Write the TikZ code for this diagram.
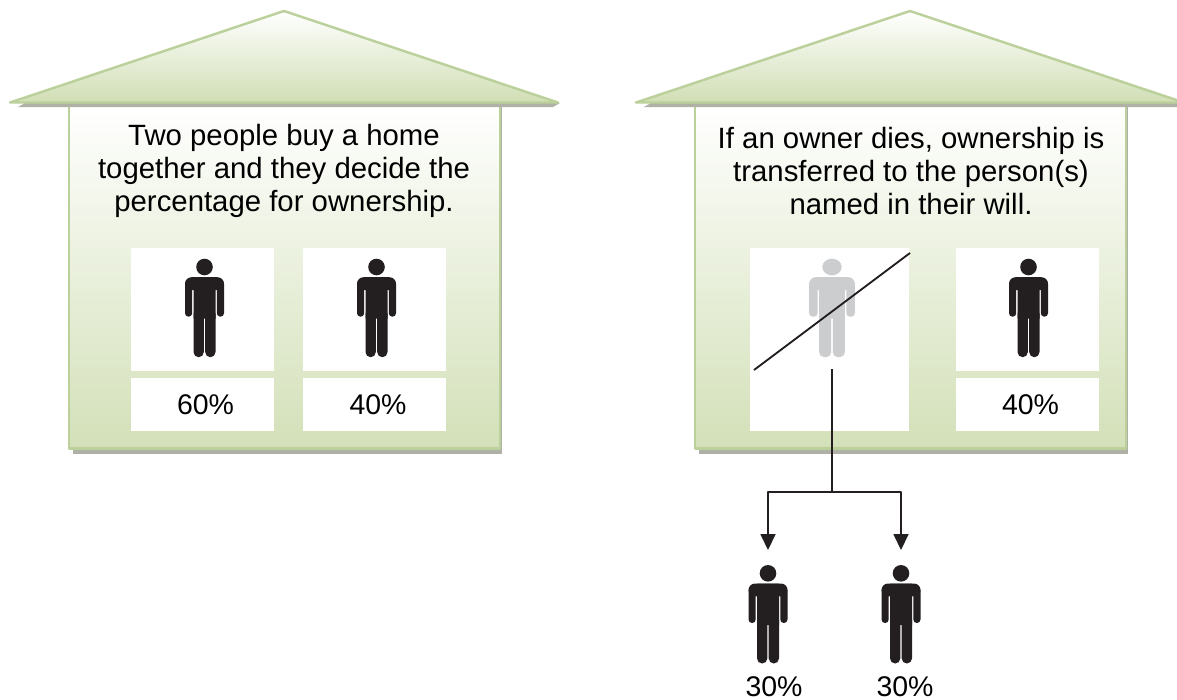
\documentclass[tikz,border=0pt]{standalone}
\usepackage{fontspec}
\usetikzlibrary{arrows.meta}
\setmainfont{Liberation Sans}
\definecolor{rimgreen}{HTML}{BBD09A}
\definecolor{wallgreen}{HTML}{D3E0B8}
\definecolor{shadowgray}{HTML}{B0B1A6}
\definecolor{mandark}{HTML}{231F20}
\definecolor{mangray}{HTML}{CCCDCF}
\tikzset{
  whitebox/.style={fill=white, inner sep=0pt, anchor=north west},
  words/.style={align=center, inner sep=0pt, font=\fontsize{16.7}{18.8}\selectfont},
  pct/.style={inner sep=0pt, font=\fontsize{16.2}{18.8}\selectfont},
  pics/house/.style={code={
    \fill[shadowgray] (73,104)--(502,104)--(502,453.5)--(73,453.5)--cycle;
    \draw[rimgreen, line width=1.25pt, top color=white, middle color=wallgreen!38!white, bottom color=wallgreen] (69,104)--(500,104)--(500,448.5)--(69,448.5)--cycle;
    \fill[shadowgray] (18,107)--(25,103)--(560,103)--(553,107)--cycle;
    \draw[rimgreen, line width=1.4pt, line join=round, top color=white, middle color=wallgreen!55!white, bottom color=wallgreen!90!rimgreen] (10,102.5)--(284,11)--(558,102.5)--cycle;
  }},
  pics/man/.style={code={
    \fill[pic actions] (0,8.3) circle (8.3) (-11,18.5) rectangle (11,60);
    \fill[pic actions, rounded corners=3.7pt] (-19.5,18.5) rectangle (19.5,31.3);
    \fill[pic actions, rounded corners=2pt] (-19.5,22) rectangle (-12.3,58) (12.3,22) rectangle (19.5,58);
    \fill[pic actions, rounded corners=2.9pt] (-11,50) rectangle (-0.7,98.5) (0.7,50) rectangle (11,98.5);
  }}
}
\begin{document}
\begin{tikzpicture}[x=0.02cm, y=-0.02cm, line join=round, >={Triangle[length=9pt,width=8.5pt]}]
\useasboundingbox (0,0) rectangle (1177,700);
\clip (0,0) rectangle (1177,700);
\pic (houseL) at (0,0) {house};
\pic (houseR) at (626,0) {house};
\node[words] (textL) at (284,171) {Two people buy a home\\together and they decide the\\percentage for ownership.};
\node[words] (textR) at (911,171) {If an owner dies, ownership is\\transferred to the person(s)\\named in their will.};
\node[whitebox, minimum width=2.86cm, minimum height=2.46cm] (boxA) at (131,248) {};
\node[whitebox, minimum width=2.86cm, minimum height=2.46cm] (boxB) at (303,248) {};
\node[whitebox, minimum width=2.86cm, minimum height=1.06cm] (boxC) at (131,378) {};
\node[whitebox, minimum width=2.86cm, minimum height=1.06cm] (boxD) at (303,378) {};
\node[whitebox, minimum width=3.18cm, minimum height=3.66cm] (boxE) at (750,248) {};
\node[whitebox, minimum width=2.86cm, minimum height=2.46cm] (boxF) at (956,248) {};
\node[whitebox, minimum width=2.86cm, minimum height=1.06cm] (boxG) at (956,378) {};
\node[pct] (pctA) at (205.5,405) {60\%};
\node[pct] (pctB) at (378,405) {40\%};
\node[pct] (pctG) at (1030.5,405) {40\%};
\node[pct] (pctL) at (774,687) {30\%};
\node[pct] (pctR) at (905,687) {30\%};
\pic[fill=mandark] (manA) at (204.5,258.7) {man};
\pic[fill=mandark] (manB) at (376.5,258.7) {man};
\pic[fill=mangray, xscale=1.17] (manE) at (832,258.7) {man};
\pic[fill=mandark] (manF) at (1028.5,258.7) {man};
\pic[fill=mandark] (manL) at (768,565) {man};
\pic[fill=mandark] (manR) at (901,565) {man};
\coordinate (crossA) at (754,370); \coordinate (crossB) at (910,253);
\coordinate (trunk) at (832,369); \coordinate (fork) at (832,492);
\coordinate (tipL) at (768,550); \coordinate (tipR) at (901,550);
\draw[mandark, line width=1.05pt] (crossA)--(crossB);
\draw[mandark, line width=1.05pt] (trunk)--(fork);
\draw[mandark, line width=0.8pt, ->] (fork)-|(tipL);
\draw[mandark, line width=0.8pt, ->] (fork)-|(tipR);
\end{tikzpicture}
\end{document}
